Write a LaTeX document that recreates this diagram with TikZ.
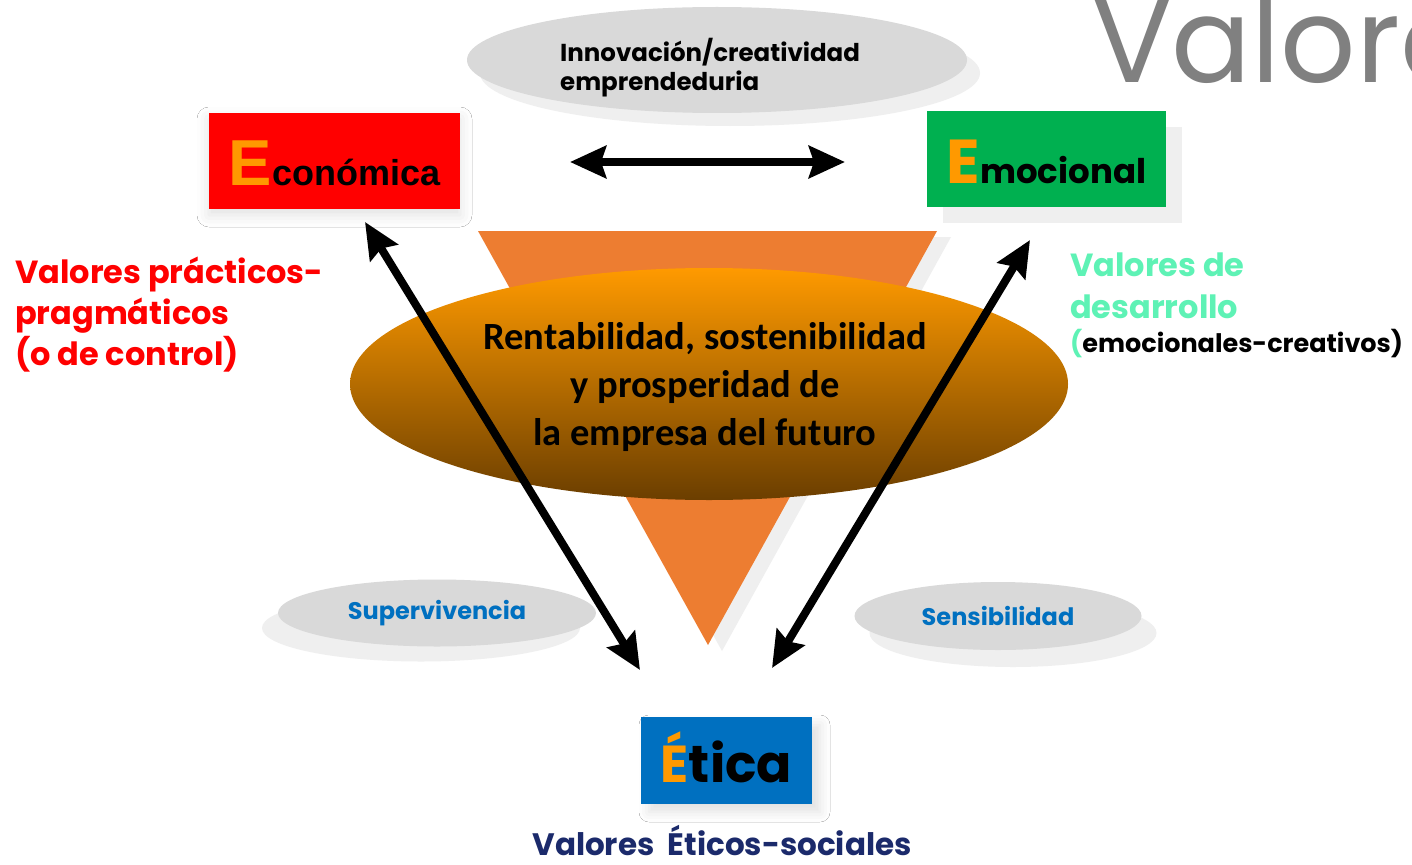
\documentclass[tikz,border=0pt]{standalone}
\usepackage{fontspec}
\setmainfont{Poppins}
\newfontfamily\gothic{Poppins}
\newfontfamily\calib{Carlito}
\newfontfamily\arialf{Liberation Sans}
\usetikzlibrary{shapes.geometric,arrows.meta,shadows,shadows.blur}
\definecolor{eorange}{HTML}{FF9900}
\definecolor{ered}{HTML}{FF0000}
\definecolor{egreen}{HTML}{00B050}
\definecolor{eblue}{HTML}{0070C0}
\definecolor{enavy}{HTML}{1B2A6B}
\definecolor{eaqua}{HTML}{5EF2B5}
\definecolor{ellgray}{HTML}{D9D9D9}
\definecolor{shgray}{HTML}{EFEFEF}
\definecolor{tri}{HTML}{ED7D31}
\definecolor{titlegray}{HTML}{808080}
\definecolor{coretop}{HTML}{FF9A00}
\definecolor{coremid}{HTML}{C67800}
\definecolor{corebot}{HTML}{6B3E00}
\begin{document}
\begin{tikzpicture}[x=1pt,y=-1pt,
  grayell/.style={ellipse, fill=ellgray, inner sep=0},
  valbox/.style={rectangle, inner sep=0, text depth=0pt},
  dbl/.style={{Stealth[length=36pt,width=32pt,inset=5pt]}-{Stealth[length=36pt,width=32pt,inset=5pt]}, line width=8pt, black},
  lbl/.style={inner sep=0, align=left, font=\gothic\bfseries}]
\clip (0,0) rectangle (1412,864);
\fill[white] (0,0) rectangle (1412,864);

% title
\node[anchor=base west, text=titlegray, inner sep=0] (title) at (1092,83) {\fontsize{118}{118}\selectfont Valores};

% top ellipse
\node[grayell, minimum width=500, minimum height=106,
  drop shadow={shadow xshift=13pt, shadow yshift=-13pt, fill=shgray, opacity=1}] (inno) at (717,60) {};
\node[lbl, anchor=base west, font=\gothic\bfseries\fontsize{24.5}{29}\selectfont] (innotext) at (560,91)
  {Innovación/creatividad\\emprendeduria};

% triangle
\fill[shgray] (492,237) -- (951,237) -- (722,651) -- cycle;
\fill[tri] (478,231) -- (937,231) -- (708,645) -- cycle;

% central ellipse
\node[ellipse, minimum width=718, minimum height=232, inner sep=0,
  top color=coretop, middle color=coremid, bottom color=corebot] (core) at (709,384) {};
\node[align=center, inner sep=0, anchor=base, font=\calib\bfseries\fontsize{38.5}{48}\selectfont] (coretext) at (705,445)
  {Rentabilidad, sostenibilidad\\y prosperidad de\\la empresa del futuro};

% boxes
\node[valbox, fill=ered, minimum width=251, minimum height=96, text height=48pt,
  blur shadow={shadow xshift=0pt, shadow yshift=-6pt, shadow blur radius=12pt, shadow opacity=12}] (eco) at (334.5,161)
  {\arialf\bfseries{\fontsize{65}{65}\selectfont\color{eorange}E}{\fontsize{36}{36}\selectfont conómica}};
\node[valbox, fill=egreen, minimum width=239, minimum height=96, text height=48pt,
  drop shadow={shadow xshift=16pt, shadow yshift=-16pt, fill=shgray, opacity=1}] (emo) at (1046.5,159)
  {\gothic\bfseries{\fontsize{62}{62}\selectfont\color{eorange}E}{\fontsize{34}{34}\selectfont mocional}};
\node[valbox, fill=eblue, minimum width=171, minimum height=87, text height=43pt,
  blur shadow={shadow xshift=8pt, shadow yshift=-8pt, shadow blur radius=10pt, shadow opacity=12}] (eti) at (726.5,760.5)
  {\gothic\bfseries{\fontsize{52}{52}\selectfont\color{eorange}É}{\fontsize{52}{52}\selectfont tica}};

% bottom ellipses
\node[grayell, minimum width=318, minimum height=67,
  drop shadow={shadow xshift=-16pt, shadow yshift=-15pt, fill=shgray, opacity=1},
  font=\gothic\bfseries\fontsize{24}{24}\selectfont, text=eblue] (sup) at (437,613) {Supervivencia};
\node[grayell, minimum width=287, minimum height=68,
  drop shadow={shadow xshift=15pt, shadow yshift=-17pt, fill=shgray, opacity=1},
  font=\gothic\bfseries\fontsize{24}{24}\selectfont, text=eblue] (sen) at (998,616) {Sensibilidad};

% side labels
\node[lbl, anchor=base west, text=ered, font=\gothic\bfseries\fontsize{32}{41}\selectfont] (lefttxt) at (15,365)
  {Valores prácticos-\\pragmáticos\\(o de control)};
\node[lbl, anchor=base west, text=eaqua, font=\gothic\bfseries\fontsize{32}{42}\selectfont] (righttxt) at (1070,318)
  {Valores de\\desarrollo};
\node[lbl, anchor=base west, font=\gothic\bfseries\fontsize{25.5}{25.5}\selectfont] (righttxt2) at (1070,352)
  {{\color{eaqua}(}emocionales-creativos)};
\node[lbl, anchor=base, text=enavy, font=\gothic\bfseries\fontsize{31}{31}\selectfont] (bottomtxt) at (722,855)
  {Valores~~Éticos-sociales};

% arrows
\coordinate (h1) at (570,162);
\coordinate (h2) at (845,162);
\coordinate (l1) at (365,222);
\coordinate (l2) at (640,670);
\coordinate (r1) at (1030,240);
\coordinate (r2) at (772,668);
\draw[dbl] (h1) -- (h2);
\draw[dbl] (l1) -- (l2);
\draw[dbl] (r1) -- (r2);
\end{tikzpicture}
\end{document}
